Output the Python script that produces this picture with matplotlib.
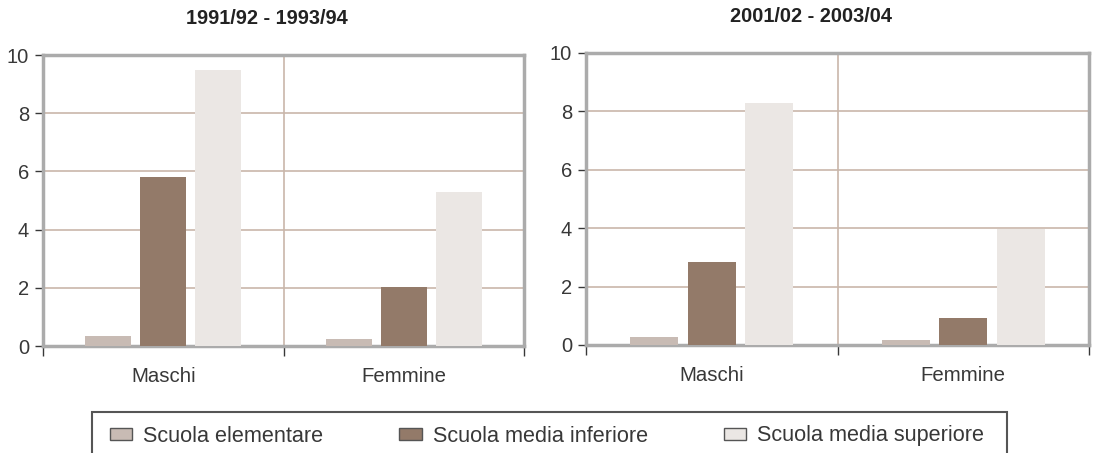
import numpy as np
import matplotlib
matplotlib.use("Agg")
import matplotlib.pyplot as plt
from matplotlib.patches import Rectangle

plt.rcParams['font.family'] = ['Liberation Sans', 'DejaVu Sans']

# dati
categorie = ["Maschi", "Femmine"]
serie = ["Scuola elementare", "Scuola media inferiore", "Scuola media superiore"]
titoli = ["1991/92 - 1993/94", "2001/02 - 2003/04"]
valori_9194 = [[0.35, 0.25], [5.8, 2.03], [9.48, 5.28]]
valori_0104 = [[0.27, 0.17], [2.85, 0.93], [8.3, 3.98]]
yticks = [0, 2, 4, 6, 8, 10]

colori = ["#c8bbb4", "#937a69", "#ebe7e4"]
grigio = "#ababab"
griglia = "#c9b6aa"
testo = "#383838"

fig = plt.figure(figsize=(10.94, 4.53), dpi=100)
ax1 = fig.add_axes([43 / 1094, 107 / 453, 481 / 1094, 291 / 453])
ax2 = fig.add_axes([586 / 1094, 108 / 453, 503 / 1094, 292 / 453])

x = np.arange(len(categorie))
larg = 0.19
passo = 0.229
barre = []
# titoli un po' spostati a sinistra come nell'originale
for ax, titolo, valori, xt in [(ax1, titoli[0], valori_9194, 0.466),
                               (ax2, titoli[1], valori_0104, 0.447)]:
    barre = []
    for i, (nome, col) in enumerate(zip(serie, colori)):
        b = ax.bar(x + (i - 1) * passo, valori[i], width=larg, color=col, label=nome, zorder=3)
        barre.append(b)
    ax.set_xlim(-0.5, 1.5)
    ax.set_ylim(0, 10)
    ax.set_yticks(yticks)
    ax.yaxis.grid(True, color=griglia, linewidth=1.2, zorder=1)
    ax.axvline(0.5, color=griglia, linewidth=1.2, zorder=1)
    ax.set_xticks([-0.5, 0.5, 1.5])
    ax.set_xticklabels([])
    ax.set_xticks(x, minor=True)
    ax.set_xticklabels(categorie, minor=True)
    ax.tick_params(axis='x', which='minor', length=0, pad=15, labelsize=14.7, labelcolor=testo)
    ax.tick_params(axis='x', which='major', direction='out', length=7, width=1, color=testo)
    ax.tick_params(axis='y', direction='out', length=6, width=1, color=testo,
                   labelsize=14.5, labelcolor=testo, pad=4)
    for s in ax.spines.values():
        s.set_color(grigio)
        s.set_linewidth(2.5)
    ax.set_title(titolo, fontsize=14.4, fontweight='bold', color='#222222', pad=22, x=xt)

leg = fig.legend(barre, serie, loc='center left', bbox_to_anchor=(90 / 1094, 1 - 436 / 453),
                 ncol=3, frameon=False, fontsize=15.6, handlelength=1.05, handleheight=0.5,
                 handletextpad=0.5, columnspacing=3.5, labelcolor=testo)
for h in leg.legend_handles:
    h.set_edgecolor('#555555')
    h.set_linewidth(1)

fig.add_artist(Rectangle((92 / 1094, -0.1), (1007 - 92) / 1094, 0.1 + 41 / 453,
                         transform=fig.transFigure, fill=False, edgecolor='#555555',
                         linewidth=1.5, clip_on=False))

fig.savefig("out.png", dpi=100)
